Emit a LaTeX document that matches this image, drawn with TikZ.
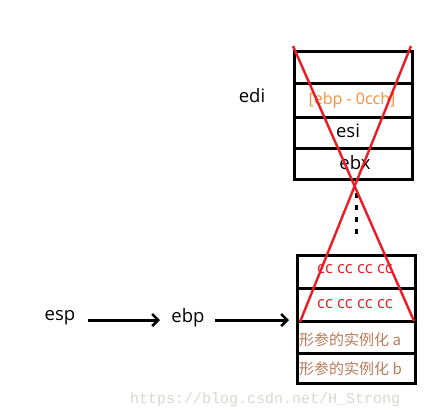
\documentclass[tikz,border=0pt]{standalone}
\usepackage{fontspec}
\setmainfont{Open Sans}
\newfontfamily\cjk{Noto Sans CJK SC}
\newfontfamily\wmfont{Liberation Mono}
\usetikzlibrary{arrows.meta}
\definecolor{pred}{RGB}{237,28,36}
\definecolor{porange}{RGB}{255,140,60}
\definecolor{pbrown}{RGB}{185,122,87}
\definecolor{wm}{RGB}{215,215,210}
\tikzset{
  cell/.style={draw=black,line width=3pt,minimum width=118pt,inner sep=0pt},
  reg/.style={font=\fontsize{18.5}{22}\selectfont,text=black,inner sep=0pt},
  cross/.style={draw=pred,line width=2.4pt},
  push/.style={draw=black,line width=3pt,-{Straight Barb[length=6pt,width=12pt,line width=2.5pt]}},
  cctext/.style={font=\fontsize{16.5}{19}\selectfont,text=pred,inner sep=0pt},
  argtext/.style={font=\fontsize{15}{18}\selectfont,text=pbrown,inner sep=0pt,anchor=west}
}
\begin{document}
\begin{tikzpicture}[x=1pt,y=-1pt]
\useasboundingbox (0,0) rectangle (440,418);
% upper stack
\node[cell,minimum height=32pt,anchor=north west] (u1) at (293,50) {};
\node[cell,minimum height=34pt,anchor=north west] (u2) at (293,82) {};
\node[cell,minimum height=31pt,anchor=north west] (u3) at (293,116) {};
\node[cell,minimum height=31pt,anchor=north west] (u4) at (293,147) {};
% lower stack
\node[cell,minimum height=33pt,anchor=north west] (l1) at (296,254) {};
\node[cell,minimum height=33pt,anchor=north west] (l2) at (296,287) {};
\node[cell,minimum height=32pt,anchor=north west] (l3) at (296,320) {};
\node[cell,minimum height=30pt,anchor=north west] (l4) at (296,352) {};
% texts in cells
\node[font=\fontsize{16}{19}\selectfont,text=porange,inner sep=0pt] (t2) at (352,100) {[ebp - 0cch]};
\node[reg] (t3) at (348,131) {esi};
\node[reg] (t4) at (355,163) {ebx};
\node[cctext] (c1) at (355,269) {cc cc cc cc};
\node[cctext] (c2) at (355,304) {cc cc cc cc};
\node[argtext] (a1) at (299,340) {\cjk 形参的实例化 a};
\node[argtext] (a2) at (299,369) {\cjk 形参的实例化 b};
% side labels
\node[reg] (edi) at (252,96) {edi};
\node[reg] (esp) at (60,318) {esp};
\node[reg] (ebp) at (188,318) {ebp};
\coordinate (espR) at (88,320);
\coordinate (ebpL) at (160,320);
\coordinate (ebpR) at (215,320);
\coordinate (boxL) at (289,320);
\draw[push] (espR) -- (ebpL);
\draw[push] (ebpR) -- (boxL);
% dotted
\coordinate (d1) at (356,193);
\coordinate (d2) at (356,236);
\draw[line width=3pt,dash pattern=on 5pt off 7pt] (d1) -- (d2);
% red cross
\coordinate (x1) at (293,46);
\coordinate (x2) at (414,321);
\coordinate (x3) at (411,46);
\coordinate (x4) at (300,322);
\draw[cross] (x1) -- (x2);
\draw[cross] (x3) -- (x4);
% watermark
\node[font=\wmfont\fontsize{15}{18}\selectfont,text=wm,anchor=west,inner sep=0pt] (wmk) at (130,400) {https://blog.csdn.net/H\_Strong};
\end{tikzpicture}
\end{document}
